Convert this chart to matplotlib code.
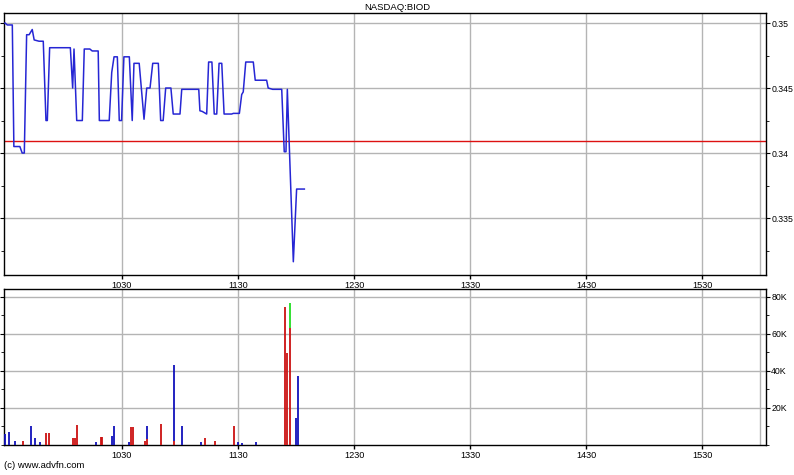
import matplotlib
matplotlib.use("Agg")
import matplotlib.pyplot as plt
from matplotlib.ticker import FixedLocator, MultipleLocator, FuncFormatter

# ---- data (time in minutes since midnight) ----
price_time = [569.5, 570.7, 573.3, 574.1, 577.2, 578.4, 579.5, 580.7, 582.0, 583.6,
              584.6, 587.1, 589.3, 590.7, 591.4, 592.6, 603.3, 604.5, 605.2, 606.6,
              609.5, 610.5, 613.4, 614.6, 617.7, 618.3, 623.4, 624.7, 625.9, 627.6,
              628.6, 629.8, 631.0, 633.8, 635.3, 636.2, 638.9, 641.4, 642.8, 644.5,
              645.9, 648.8, 650.0, 651.3, 652.6, 655.3, 656.5, 660.0, 660.9, 669.7,
              670.3, 671.5, 673.8, 674.8, 676.5, 677.7, 679.0, 680.2, 681.6, 682.8,
              686.7, 687.6, 690.7, 691.9, 692.7, 694.0, 697.9, 698.9, 704.8, 705.6,
              707.9, 712.6, 713.9, 714.8, 715.5, 718.6, 720.3, 724.3]
price = [0.3500, 0.34985, 0.34985, 0.3405, 0.3405, 0.3400, 0.3400, 0.3491, 0.3491, 0.3495,
         0.3487, 0.3486, 0.3486, 0.3425, 0.3425, 0.3481, 0.3481, 0.3450, 0.3480, 0.3425,
         0.3425, 0.3480, 0.3480, 0.34785, 0.34785, 0.3425, 0.3425, 0.3462, 0.3474, 0.3474,
         0.3425, 0.3425, 0.3474, 0.3474, 0.3425, 0.3469, 0.3469, 0.3426, 0.3450, 0.3450,
         0.3469, 0.3469, 0.3425, 0.3425, 0.3450, 0.3450, 0.3430, 0.3430, 0.3449, 0.3449,
         0.34325, 0.3432, 0.3430, 0.3470, 0.3470, 0.3430, 0.3430, 0.3469, 0.3469, 0.3430,
         0.3430, 0.34305, 0.34305, 0.3445, 0.3447, 0.3470, 0.3470, 0.3456, 0.3456, 0.3450,
         0.3449, 0.3449, 0.3401, 0.3401, 0.3449, 0.33164, 0.33723, 0.33723]
prev_close = 0.34092

vol_time = [569.6, 571.7, 574.8, 578.9, 583.1, 585.2, 587.7, 590.8, 592.1, 604.8,
            605.8, 606.9, 616.4, 619.0, 619.8, 625.0, 626.0, 633.5, 634.8, 635.7,
            642.1, 643.0, 650.3, 657.0, 661.2, 671.0, 672.9, 678.1, 688.1, 690.1,
            692.2, 699.4, 714.4, 715.5, 717.0, 720.1, 721.2]
vol_red = [0, 0, 0, 2200, 0, 0, 0, 6500, 6500, 3800,
           3800, 10800, 0, 4300, 4300, 0, 0, 0, 9900, 9900,
           2200, 3000, 11300, 2000, 0, 0, 3800, 2200, 10300, 0,
           0, 0, 74400, 49900, 63400, 0, 0]
vol_blue = [5900, 7000, 2200, 0, 10300, 3800, 1600, 0, 0, 0,
            0, 0, 1600, 0, 0, 4900, 10300, 1600, 0, 0,
            0, 7300, 0, 41200, 10300, 1600, 0, 0, 0, 1600,
            1000, 1600, 0, 0, 0, 14800, 37300]
vol_green = [0] * 34 + [13200, 0, 0]

hour_ticks = [630, 690, 750, 810, 870, 930]
hour_labels = ["1030", "1130", "1230", "1330", "1430", "1530"]
price_ticks = [0.335, 0.34, 0.345, 0.35]
vol_ticks = [20000, 40000, 60000, 80000]

# ---- figure ----
W, H = 794, 475
fig = plt.figure(figsize=(W / 100, H / 100), dpi=100)
plt.rcParams['font.family'] = ['Liberation Sans', 'DejaVu Sans']

def fx(px):
    return px / W

def fy(py):
    return 1 - py / H

ax1 = fig.add_axes([fx(4), fy(275), fx(766) - fx(4), fy(13) - fy(275)])
ax2 = fig.add_axes([fx(4), fy(445), fx(766) - fx(4), fy(289) - fy(445)])

xlim = (569.0, 963.0)
grid_c = '#b4b4b4'
line_blue = '#2626d4'

for ax in (ax1, ax2):
    ax.set_xlim(*xlim)
    ax.xaxis.set_major_locator(FixedLocator(hour_ticks))
    ax.set_xticklabels(hour_labels)
    ax.grid(True, color=grid_c, linewidth=1.0)
    ax.axvline(960, color=grid_c, linewidth=1.0, zorder=0.5)
    ax.set_axisbelow(True)
    for s in ax.spines.values():
        s.set_color('black')
        s.set_linewidth(1.0)
    ax.tick_params(axis='x', direction='out', length=3, width=1, pad=1,
                   labelsize=6.6, colors='black')
    ax.tick_params(axis='y', which='both', left=True, right=True,
                   labelleft=False, labelright=True, direction='out',
                   labelsize=6.3, pad=0.8)
    ax.tick_params(axis='y', which='major', length=3)
    ax.tick_params(axis='y', which='minor', length=2)

# price panel
ax1.plot(price_time, price, color=line_blue, linewidth=1.1, zorder=3)
ax1.axhline(prev_close, color='#dd1111', linewidth=1.0, zorder=2)
ax1.set_ylim(0.33062, 0.35077)
ax1.yaxis.set_major_locator(FixedLocator(price_ticks))
ax1.yaxis.set_minor_locator(MultipleLocator(0.0025))
ax1.yaxis.set_major_formatter(FuncFormatter(lambda v, p: ('%g' % round(v, 4))))

# volume panel
bottoms_blue = [r for r in vol_red]
bottoms_green = [r + b for r, b in zip(vol_red, vol_blue)]
ax2.vlines(vol_time, 0, vol_red, color='#cc1111', linewidth=1.3, zorder=3)
ax2.vlines(vol_time, bottoms_blue, [r + b for r, b in zip(vol_red, vol_blue)],
           color='#1111bb', linewidth=1.3, zorder=3)
ax2.vlines(vol_time, bottoms_green,
           [g + t for g, t in zip(vol_green, bottoms_green)],
           color='#22dd22', linewidth=1.3, zorder=3)
ax2.set_ylim(0, 84300)
ax2.yaxis.set_major_locator(FixedLocator(vol_ticks))
ax2.yaxis.set_minor_locator(MultipleLocator(10000))
ax2.yaxis.set_major_formatter(FuncFormatter(lambda v, p: '%dK' % round(v / 1000)))

fig.text(fx(397), fy(7), "NASDAQ:BIOD", ha='center', va='center', fontsize=6.8)
fig.text(fx(4), fy(466), "(c) www.advfn.com", ha='left', va='center', fontsize=6.8)

fig.savefig("out.png", dpi=100, facecolor='white')
